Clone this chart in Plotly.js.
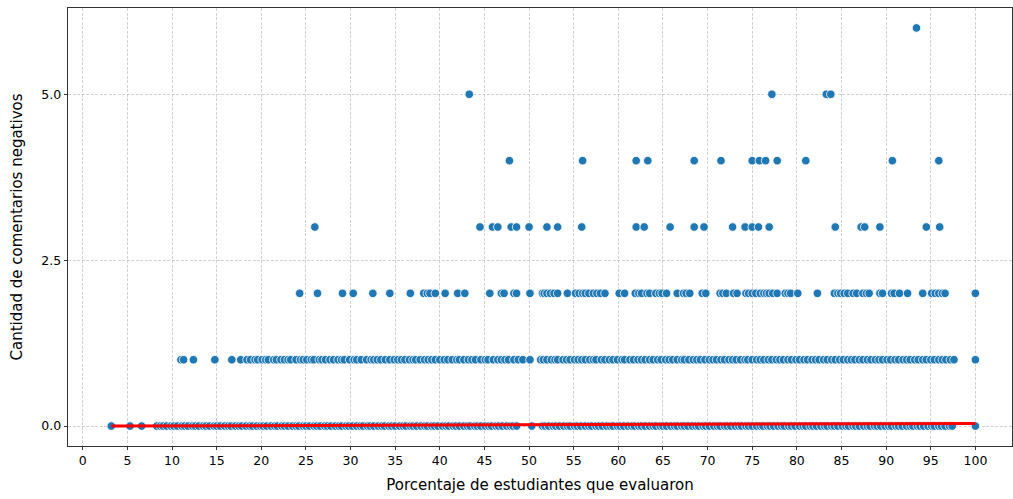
<!DOCTYPE html>
<html>
<head>
<meta charset="utf-8">
<script src="https://cdn.plot.ly/plotly-3.0.1.min.js"></script>
<style>html,body{margin:0;padding:0;background:#fff;}#chart{width:1013px;height:499px;}</style>
</head>
<body>
<div id="chart"></div>
<script>
// Points per number of negative comments (y level), x = % of students who evaluated
const x0 = [3.2, 5.3, 6.6, 8.3, 8.7, 9.0, 9.4, 9.9, 10.2, 10.6, 11.1, 11.4, 11.8, 12.3, 12.6, 13.0, 13.5, 13.8, 14.2, 14.7, 15.0, 15.4, 15.9, 16.3, 16.6, 17.1, 17.5, 17.8, 18.3, 18.7, 19.0, 19.5, 19.9, 20.2, 20.6, 21.1, 21.5, 21.8, 22.3, 22.6, 23.0, 23.5, 23.9, 24.2, 24.7, 25.0, 25.4, 25.9, 26.2, 26.6, 27.1, 27.4, 27.8, 28.3, 28.7, 29.0, 29.5, 29.8, 30.2, 30.7, 31.1, 31.4, 31.9, 32.2, 32.6, 33.1, 33.5, 33.8, 34.3, 34.6, 35.0, 35.5, 35.9, 36.2, 36.7, 37.0, 37.4, 37.9, 38.3, 38.6, 39.1, 39.4, 39.8, 40.3, 40.7, 41.0, 41.5, 41.8, 42.2, 42.7, 43.1, 43.4, 43.9, 44.2, 44.6, 45.1, 45.5, 45.8, 46.3, 46.6, 47.0, 47.5, 47.9, 48.2, 48.6, 50.3, 51.5, 51.8, 52.2, 52.7, 53.0, 53.4, 53.9, 54.3, 54.6, 55.1, 55.4, 55.8, 56.3, 56.7, 57.0, 57.5, 57.8, 58.2, 58.7, 59.1, 59.4, 59.9, 60.2, 60.6, 61.1, 61.5, 61.8, 62.3, 62.6, 63.0, 63.5, 63.9, 64.2, 64.7, 65.0, 65.4, 65.9, 66.3, 66.6, 67.1, 67.4, 67.8, 68.3, 68.7, 69.0, 69.5, 69.8, 70.2, 70.7, 71.1, 71.4, 71.9, 72.2, 72.6, 73.1, 73.5, 73.8, 74.3, 74.6, 75.0, 75.5, 75.9, 76.2, 76.7, 77.0, 77.4, 77.9, 78.3, 78.6, 79.1, 79.4, 79.8, 80.3, 80.7, 81.0, 81.5, 81.8, 82.2, 82.7, 83.1, 83.4, 83.9, 84.2, 84.6, 85.1, 85.5, 85.8, 86.3, 86.6, 87.0, 87.5, 87.9, 88.2, 88.7, 89.0, 89.4, 89.9, 90.3, 90.6, 91.1, 91.4, 91.8, 92.3, 92.7, 93.0, 93.5, 93.8, 94.2, 94.7, 95.1, 95.4, 95.9, 96.2, 96.6, 97.1, 97.4, 100];
const x1 = [11.0, 11.3, 12.4, 14.8, 16.7, 17.7, 18.4, 18.8, 19.3, 19.6, 20.1, 20.5, 20.8, 21.4, 21.7, 22.2, 22.6, 23.0, 23.3, 23.9, 24.4, 24.7, 25.1, 25.6, 25.9, 26.5, 26.8, 27.2, 27.7, 28.1, 28.6, 29.0, 29.3, 29.9, 30.4, 30.7, 31.2, 31.8, 32.3, 32.6, 33.0, 33.4, 33.9, 34.4, 34.9, 35.3, 35.7, 36.1, 36.6, 37.0, 37.3, 37.8, 38.3, 38.7, 39.1, 39.5, 40.0, 40.5, 40.9, 41.4, 41.9, 42.2, 42.7, 43.2, 43.6, 44.0, 44.6, 45.1, 45.4, 46.0, 46.5, 46.9, 47.3, 47.7, 48.3, 48.8, 49.3, 50.1, 51.3, 51.6, 52.0, 52.5, 52.9, 53.2, 53.8, 54.2, 54.6, 55.1, 55.5, 55.9, 56.3, 56.8, 57.2, 57.5, 58.1, 58.5, 59.0, 59.4, 59.9, 60.4, 60.7, 61.3, 61.7, 62.2, 62.6, 63.0, 63.5, 63.9, 64.4, 64.8, 65.3, 65.7, 66.1, 66.6, 67.1, 67.4, 67.9, 68.4, 68.8, 69.2, 69.7, 70.2, 70.6, 71.0, 71.5, 71.9, 72.4, 72.8, 73.2, 73.7, 74.2, 74.5, 75.0, 75.5, 75.9, 76.3, 76.8, 77.2, 77.7, 78.1, 78.5, 79.0, 79.4, 79.9, 80.3, 80.8, 81.2, 81.7, 82.1, 82.5, 83.0, 83.4, 83.9, 84.3, 84.8, 85.2, 85.7, 86.1, 86.5, 87.0, 87.4, 87.9, 88.3, 88.8, 89.2, 89.6, 90.1, 90.5, 91.0, 91.4, 91.9, 92.3, 92.7, 93.2, 93.6, 94.1, 94.5, 95.0, 95.4, 95.9, 96.3, 96.7, 97.2, 97.6, 100];
const x2 = [24.3, 26.3, 29.1, 30.3, 32.5, 34.4, 36.7, 38.2, 38.6, 38.9, 39.5, 40.6, 42.0, 42.8, 45.6, 46.9, 47.2, 48.3, 48.6, 50.1, 51.5, 51.7, 52.0, 52.4, 52.8, 53.2, 54.3, 55.2, 55.6, 56.0, 56.3, 56.7, 57.2, 57.6, 58.0, 58.5, 60.1, 60.7, 61.9, 62.3, 62.6, 63.2, 63.5, 64.2, 64.6, 64.9, 65.4, 66.6, 67.3, 67.6, 68.0, 69.4, 69.8, 71.4, 71.7, 72.1, 72.9, 73.3, 74.3, 74.6, 75.0, 75.4, 75.9, 76.3, 76.6, 76.9, 77.3, 77.8, 78.7, 79.0, 79.3, 80.1, 82.3, 84.2, 84.6, 84.9, 85.3, 85.7, 86.3, 86.7, 87.4, 87.8, 88.1, 89.3, 89.6, 90.6, 90.9, 91.5, 92.4, 94.1, 95.1, 95.5, 95.9, 96.3, 96.6, 100];
const x3 = [26.0, 44.5, 45.9, 46.5, 48.0, 48.6, 50.0, 52.0, 53.2, 55.9, 62.0, 62.9, 65.8, 68.5, 69.6, 72.8, 74.2, 75.0, 75.7, 76.9, 84.3, 87.2, 87.6, 89.3, 94.5, 96.0];
const x4 = [47.8, 56.0, 62.0, 63.3, 68.5, 71.5, 75.0, 75.8, 76.5, 77.8, 81.0, 90.7, 95.9];
const x5 = [43.3, 77.2, 83.3, 83.8];
const x6 = [93.4];
const lineX = [3.2, 100];
const lineY = [0.0, 0.04];
const xTitle = 'Porcentaje de estudiantes que evaluaron';
const yTitle = 'Cantidad de comentarios negativos';

const groups = [[x0, 0], [x1, 1], [x2, 2], [x3, 3], [x4, 4], [x5, 5], [x6, 6]];
let px = [], py = [];
groups.forEach(([xs, lvl]) => { xs.forEach(v => { px.push(v); py.push(lvl); }); });

const traces = [
  {x: px, y: py, type: 'scatter', mode: 'markers', hoverinfo: 'skip',
   marker: {color: '#1f77b4', size: 8.5, line: {color: '#ffffff', width: 0.8}}},
  {x: lineX, y: lineY, type: 'scatter', mode: 'lines', hoverinfo: 'skip',
   line: {color: '#ff0000', width: 3}}
];

const gridColor = 'rgba(176,176,176,0.7)';
const layout = {
  width: 1013, height: 499,
  margin: {l: 68, r: 1, t: 8, b: 53},
  paper_bgcolor: '#ffffff', plot_bgcolor: '#ffffff',
  showlegend: false,
  font: {family: 'DejaVu Sans', size: 12.5, color: '#000000'},
  xaxis: {
    range: [-1.65, 104.1], tickmode: 'linear', tick0: 0, dtick: 5,
    showgrid: true, gridcolor: gridColor, griddash: '3px,1.5px', gridwidth: 0.8,
    zeroline: false, showline: true, mirror: true, linecolor: '#000000', linewidth: 0.8,
    ticks: 'outside', ticklen: 3.5, tickwidth: 0.8, tickcolor: '#000000',
    title: {text: xTitle, font: {size: 15}, standoff: 12}
  },
  yaxis: {
    range: [-0.3, 6.3], tickmode: 'array', tickvals: [0, 2.5, 5], ticktext: ['0.0', '2.5', '5.0'],
    showgrid: true, gridcolor: gridColor, griddash: '3px,1.5px', gridwidth: 0.8,
    zeroline: false, showline: true, mirror: true, linecolor: '#000000', linewidth: 0.8,
    ticks: 'outside', ticklen: 3.5, tickwidth: 0.8, tickcolor: '#000000',
    title: {text: yTitle, font: {size: 15}, standoff: 14}
  }
};
Plotly.newPlot('chart', traces, layout, {staticPlot: true, displayModeBar: false});
</script>
</body>
</html>
